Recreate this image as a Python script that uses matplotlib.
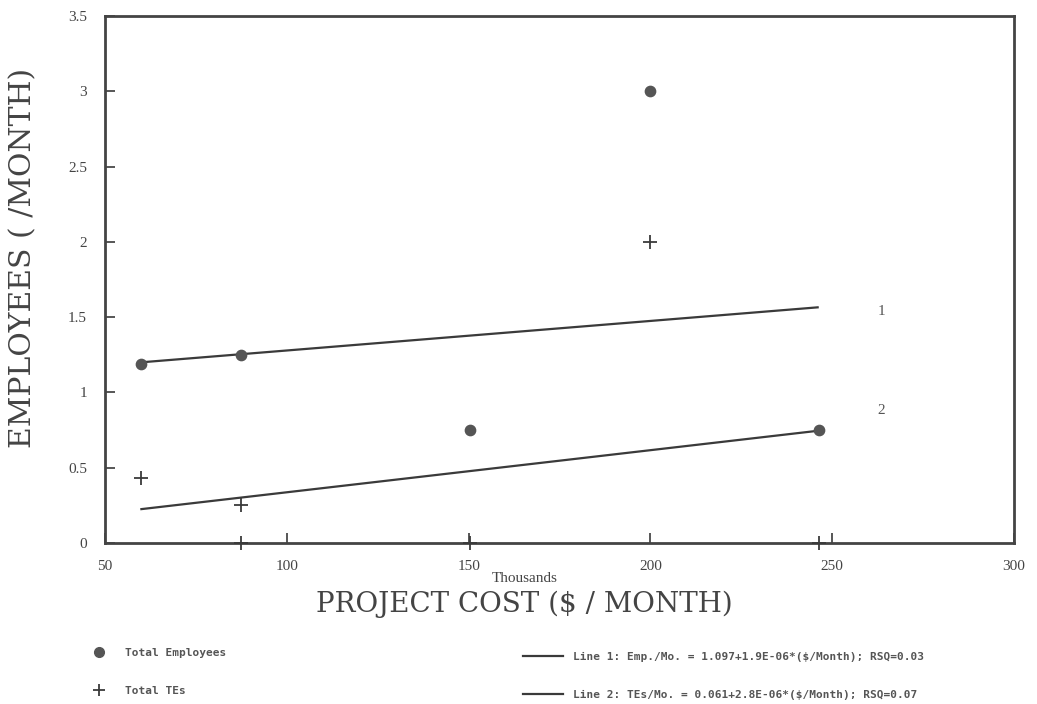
import matplotlib
matplotlib.use("Agg")
import matplotlib.pyplot as plt
from matplotlib.lines import Line2D

plt.rcParams['font.family'] = ['Liberation Serif', 'DejaVu Serif']

# project cost (thousands $/month) vs staff per month
emp_cost = [60, 87.5, 150.5, 200, 246.5]
emp_count = [1.19, 1.25, 0.75, 3.0, 0.75]

te_cost = [60, 87.5, 87.5, 150.5, 200, 246.5]
te_count = [0.43, 0.25, 0.0, 0.0, 2.0, 0.0]

# regression lines (endpoints as plotted)
line1_x = [60, 246]
line1_y = [1.20, 1.565]
line2_x = [60, 246]
line2_y = [0.225, 0.745]
line_labels = ['1', '2']
line_label_pos = [(263.5, 1.54), (263.5, 0.88)]

xticks = [50, 100, 150, 200, 250, 300]
yticks = [0, 0.5, 1, 1.5, 2, 2.5, 3, 3.5]
ytick_labels = ['0', '0.5', '1', '1.5', '2', '2.5', '3', '3.5']

legend_labels = ['Total Employees', 'Total TEs',
                 'Line 1: Emp./Mo. = 1.097+1.9E-06*($/Month); RSQ=0.03',
                 'Line 2: TEs/Mo. = 0.061+2.8E-06*($/Month); RSQ=0.07']

ink = '#3a3a3a'

fig = plt.figure(figsize=(10.37, 7.04), dpi=100)
ax = fig.add_axes([0.1013, 0.2287, 0.8765, 0.7486])

ax.plot(line1_x, line1_y, color=ink, lw=1.6)
ax.plot(line2_x, line2_y, color=ink, lw=1.6)
ax.scatter(emp_cost, emp_count, marker='o', s=55, color='#555555', zorder=3, clip_on=False)
ax.scatter(te_cost, te_count, marker='+', s=90, color=ink, linewidths=1.3, zorder=3, clip_on=False)

for lab, (lx, ly) in zip(line_labels, line_label_pos):
    ax.text(lx, ly, lab, fontsize=11, color='#555555', ha='center', va='center')

ax.set_xlim(50, 300)
ax.set_ylim(0, 3.5)
ax.set_xticks(xticks)
ax.set_yticks(yticks)
ax.set_yticklabels(ytick_labels)
ax.tick_params(axis='both', direction='in', length=7, width=1.2, color=ink,
               labelsize=11, labelcolor='#444444')
ax.tick_params(axis='x', pad=12)
ax.tick_params(axis='y', pad=13)
for s in ax.spines.values():
    s.set_linewidth(2)
    s.set_color('#444444')

ax.set_ylabel('EMPLOYEES ( /MONTH)', fontsize=21.5, color='#444444', family='DejaVu Serif')
ax.yaxis.set_label_coords(-0.074, 0.54)
fig.text(0.506, 0.178, 'Thousands', fontsize=11, color='#444444', ha='center', va='center')
fig.text(0.506, 0.141, 'PROJECT COST ($ / MONTH)', fontsize=20, color='#444444',
         ha='center', va='center', family='DejaVu Serif')

h1 = [Line2D([], [], ls='none', marker='o', ms=7, color='#555555'),
      Line2D([], [], ls='none', marker='+', ms=9, mew=1.3, color=ink)]
h2 = [Line2D([], [], color=ink, lw=1.6), Line2D([], [], color=ink, lw=1.6)]

leg_font = {'family': 'DejaVu Sans Mono', 'size': 8, 'weight': 'bold'}
fig.legend(h1, legend_labels[:2], loc='upper left', bbox_to_anchor=(0.084, 0.087),
           frameon=False, prop=leg_font, handlelength=1.1, handletextpad=1.8,
           labelspacing=2.5, borderpad=0, labelcolor='#555555')
fig.legend(h2, legend_labels[2:], loc='upper left', bbox_to_anchor=(0.499, 0.082),
           frameon=False, prop=leg_font, handlelength=3.6, handletextpad=0.9,
           labelspacing=2.5, borderpad=0, labelcolor='#555555')

fig.savefig('out.png', dpi=100)
